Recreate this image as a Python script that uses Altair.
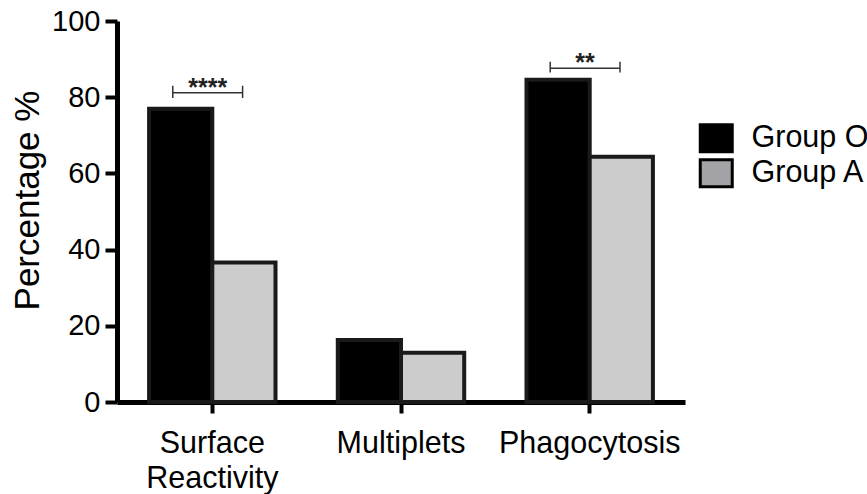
import altair as alt
import pandas as pd

categories = ["Surface Reactivity", "Multiplets", "Phagocytosis"]
groups = ["Group O", "Group A"]
group_o = [77.0, 16.3, 84.6]
group_a = [36.6, 12.9, 64.4]

sig_categories = ["Surface Reactivity", "Phagocytosis"]
sig_labels = ["****", "**"]
bracket_y = [81.2, 87.6]
bracket_top = [83.0, 89.3]
bracket_bottom = [79.8, 86.5]

y_ticks = [0, 20, 40, 60, 80, 100]

FONT = "Liberation Sans"

rows = []
for c, o, a in zip(categories, group_o, group_a):
    rows.append({"category": c, "group": groups[0], "value": o})
    rows.append({"category": c, "group": groups[1], "value": a})
df = pd.DataFrame(rows)

sig = pd.DataFrame({
    "category": sig_categories,
    "label": sig_labels,
    "y": bracket_y,
    "top": bracket_top,
    "bottom": bracket_bottom,
})

x_enc = alt.X(
    "category:N",
    sort=categories,
    scale=alt.Scale(domain=categories, paddingInner=0.33, paddingOuter=0.17),
    axis=alt.Axis(
        title=None,
        labelAngle=0,
        labelFont=FONT,
        labelFontSize=30.5,
        labelColor="black",
        labelPadding=15,
        labelLineHeight=35,
        labelLimit=0,
        labelExpr="split(datum.value, ' ')",
        tickSize=11,
        tickWidth=4,
        tickColor="black",
        domainWidth=5,
        domainColor="black",
    ),
)

y_enc = alt.Y(
    "value:Q",
    scale=alt.Scale(domain=[0, 100], nice=False),
    axis=alt.Axis(
        values=y_ticks,
        title="Percentage %",
        titleFont=FONT,
        titleFontSize=35,
        titleFontWeight="normal",
        titleColor="black",
        titleX=-72,
        titleY=179,
        labelFont=FONT,
        labelFontSize=29,
        labelColor="black",
        labelPadding=5,
        tickSize=12,
        tickWidth=4,
        tickColor="black",
        domainWidth=5,
        domainColor="black",
        grid=False,
    ),
)

bars = alt.Chart(df).mark_bar(stroke="#1a1a1a", strokeWidth=4).encode(
    x=x_enc,
    xOffset=alt.XOffset("group:N", sort=groups,
                        scale=alt.Scale(domain=groups, paddingInner=0, paddingOuter=0)),
    y=y_enc,
    fill=alt.Fill("group:N", scale=alt.Scale(domain=groups, range=["#000000", "#cccccc"]),
                  legend=None),
)

legend_layer = alt.Chart(df).mark_point(opacity=0, filled=True).encode(
    x=alt.X("category:N", sort=categories),
    y=alt.Y("value:Q"),
    fill=alt.Fill(
        "group:N",
        scale=alt.Scale(domain=groups, range=["#000000", "#a3a3a7"]),
        legend=alt.Legend(
            title=None,
            orient="none",
            legendX=584,
            legendY=102,
            labelFont=FONT,
            labelFontSize=30.5,
            labelColor="black",
            labelOffset=20,
            symbolType="M-1.333,-1.125H1.333V1.125H-1.333Z",
            symbolSize=576,
            symbolStrokeColor="black",
            symbolStrokeWidth=3,
            symbolOpacity=1,
            rowPadding=-6,
        ),
    ),
)

hline = alt.Chart(sig).mark_rule(color="#333333", strokeWidth=1.5, xOffset=-39.5, x2Offset=30.3).encode(
    x=alt.X("category:N", sort=categories),
    x2=alt.X2("category:N"),
    y=alt.Y("y:Q"),
)

left_tick = alt.Chart(sig).mark_rule(color="#333333", strokeWidth=1.5, xOffset=-39.5).encode(
    x=alt.X("category:N", sort=categories),
    y=alt.Y("top:Q"),
    y2=alt.Y2("bottom:Q"),
)

right_tick = alt.Chart(sig).mark_rule(color="#333333", strokeWidth=1.5, xOffset=30.3).encode(
    x=alt.X("category:N", sort=categories),
    y=alt.Y("top:Q"),
    y2=alt.Y2("bottom:Q"),
)

stars = alt.Chart(sig).mark_text(
    font=FONT, fontSize=25, fontWeight="bold", color="#222222",
    baseline="alphabetic", dx=-4.6, dy=3,
).encode(
    x=alt.X("category:N", sort=categories),
    y=alt.Y("y:Q"),
    text="label:N",
)

chart = alt.layer(bars, legend_layer, hline, left_tick, right_tick, stars).resolve_scale(
    fill="independent"
).properties(
    width=568,
    height=381,
    autosize=alt.AutoSizeParams(type="none"),
    padding={"left": 117, "top": 21, "right": 182, "bottom": 92},
    background="white",
).configure_view(stroke=None)

chart.save("out.html", embed_options={"renderer": "svg", "actions": False})
